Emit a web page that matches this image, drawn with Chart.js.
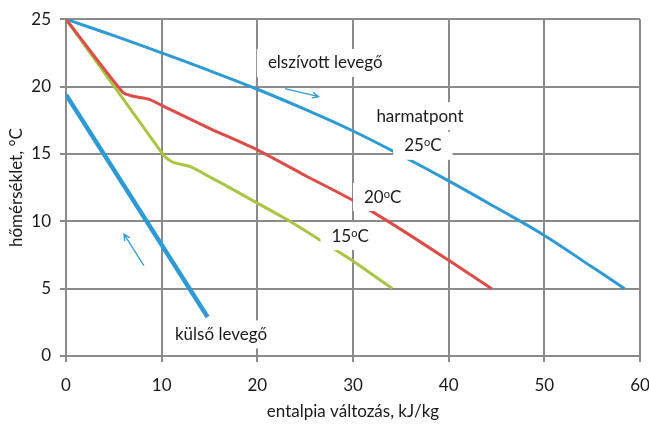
<!DOCTYPE html>
<html>
<head>
<meta charset="utf-8">
<script src="https://cdn.jsdelivr.net/npm/chart.js@4/dist/chart.umd.min.js"></script>
<style>
  html, body { margin: 0; padding: 0; background: #fff; }
</style>
</head>
<body>
<canvas id="chart" width="649" height="426"></canvas>
<script>
// enthalpy change (kJ/kg) vs temperature (°C)
const exhaustX = [0, 5, 10, 15, 20, 25, 30, 35, 40, 45, 50, 55, 58.4];
const exhaustY = [25, 23.78, 22.5, 21.18, 19.8, 18.3, 16.7, 14.9, 13.0, 11.0, 8.95, 6.6, 5];

const dew20X = [0, 5.9, 6.9, 8.7, 10, 15, 20, 25, 30, 35, 40, 44.5];
const dew20Y = [25, 19.6, 19.3, 19.05, 18.6, 16.9, 15.3, 13.4, 11.55, 9.4, 7.1, 5];

const dew15X = [0, 10, 10.5, 11.3, 13, 15, 17.1, 20, 23.4, 26.9, 30, 34.1];
const dew15Y = [25, 15.1, 14.7, 14.35, 14.05, 13.3, 12.5, 11.35, 10.0, 8.45, 7.05, 5];

const outsideX = [0, 14.8];
const outsideY = [19.4, 2.9];

const xTicks = [0, 10, 20, 30, 40, 50, 60];
const yTicks = [0, 5, 10, 15, 20, 25];

// text labels placed in data units: [x, y, text, superscript part, tail]
const labels = [
  [27.1, 21.75, 'elszívott levegő', '', ''],
  [37.0, 17.8, 'harmatpont', '', ''],
  [37.3, 15.6, '25', 'o', 'C'],
  [33.1, 11.8, '20', 'o', 'C'],
  [29.7, 8.9, '15', 'o', 'C'],
  [16.2, 1.6, 'külső levegő', '', '']
];
// arrows in data units: [fromX, fromY, toX, toY]
const arrows = [
  [22.9, 19.85, 26.4, 19.25],
  [8.15, 6.7, 6.06, 9.04]
];

const BLUE = '#2e9ad5';
const RED = '#dd4c46';
const GREEN = '#a8c545';
const FONT = 'Lato, "Open Sans", sans-serif';
const FS = 17;

function pts(xs, ys) {
  return xs.map((x, i) => ({ x: x, y: ys[i] }));
}

const labelPlugin = {
  id: 'labels',
  afterDatasetsDraw(chart) {
    const ctx = chart.ctx;
    const sx = chart.scales.x, sy = chart.scales.y;
    ctx.save();
    // arrows
    ctx.strokeStyle = BLUE;
    ctx.lineWidth = 1.3;
    arrows.forEach(a => {
      const x1 = sx.getPixelForValue(a[0]), y1 = sy.getPixelForValue(a[1]);
      const x2 = sx.getPixelForValue(a[2]), y2 = sy.getPixelForValue(a[3]);
      const ang = Math.atan2(y2 - y1, x2 - x1);
      ctx.beginPath();
      ctx.moveTo(x1, y1);
      ctx.lineTo(x2, y2);
      ctx.moveTo(x2 - 7 * Math.cos(ang - 0.45), y2 - 7 * Math.sin(ang - 0.45));
      ctx.lineTo(x2, y2);
      ctx.lineTo(x2 - 7 * Math.cos(ang + 0.45), y2 - 7 * Math.sin(ang + 0.45));
      ctx.stroke();
    });
    // text boxes
    ctx.textBaseline = 'middle';
    labels.forEach(l => {
      const cx = sx.getPixelForValue(l[0]), cy = sy.getPixelForValue(l[1]);
      ctx.font = FS + 'px ' + FONT;
      const w1 = ctx.measureText(l[2]).width;
      const w3 = ctx.measureText(l[4]).width;
      ctx.font = '11px ' + FONT;
      const w2 = ctx.measureText(l[3]).width;
      const w = w1 + w2 + w3;
      ctx.fillStyle = '#fff';
      ctx.fillRect(cx - w / 2 - 11, cy - 14, w + 22, 28);
      ctx.fillStyle = '#1a1a1a';
      ctx.textAlign = 'left';
      ctx.font = FS + 'px ' + FONT;
      ctx.fillText(l[2], cx - w / 2, cy);
      ctx.font = '11px ' + FONT;
      ctx.fillText(l[3], cx - w / 2 + w1, cy - 3);
      ctx.font = FS + 'px ' + FONT;
      ctx.fillText(l[4], cx - w / 2 + w1 + w2, cy);
    });
    ctx.restore();
  }
};

const GRID = '#8a8a8a';

new Chart(document.getElementById('chart'), {
  type: 'scatter',
  data: {
    datasets: [
      { data: pts(outsideX, outsideY), borderColor: BLUE, borderWidth: 4.5, tension: 0 },
      { data: pts(dew20X, dew20Y), borderColor: RED, borderWidth: 3, tension: 0.2 },
      { data: pts(dew15X, dew15Y), borderColor: GREEN, borderWidth: 3, tension: 0.2 },
      { data: pts(exhaustX, exhaustY), borderColor: BLUE, borderWidth: 3, tension: 0.4 }
    ]
  },
  options: {
    responsive: false,
    animation: false,
    devicePixelRatio: 1,
    layout: { padding: { top: 17, right: 0, left: 0, bottom: 0 } },
    elements: {
      point: { radius: 0 },
      line: { fill: false, borderCapStyle: 'butt', borderJoinStyle: 'round' }
    },
    datasets: { scatter: { showLine: true } },
    plugins: { legend: { display: false }, tooltip: { enabled: false } },
    scales: {
      x: {
        type: 'linear', min: 0, max: 60,
        afterBuildTicks: s => { s.ticks = xTicks.map(v => ({ value: v })); },
        afterFit: s => { s.height = 70; s.paddingLeft = 0; s.paddingRight = 9; },
        grid: { color: GRID, lineWidth: 2, tickLength: 6 },
        border: { color: GRID, width: 2 },
        ticks: { color: '#1a1a1a', font: { family: FONT, size: FS }, padding: 13 },
        title: { display: true, text: 'entalpia változás, kJ/kg', color: '#1a1a1a',
                 font: { family: FONT, size: FS }, padding: { top: 4 } }
      },
      y: {
        type: 'linear', min: 0, max: 25,
        afterBuildTicks: s => { s.ticks = yTicks.map(v => ({ value: v })); },
        afterFit: s => { s.width = 66; },
        grid: { color: GRID, lineWidth: 2, tickLength: 6 },
        border: { color: GRID, width: 2 },
        ticks: { color: '#1a1a1a', font: { family: FONT, size: FS }, padding: 9 },
        title: { display: true, text: 'hőmérséklet, °C', color: '#1a1a1a',
                 font: { family: FONT, size: FS }, padding: { top: 6, bottom: 0 } }
      }
    }
  },
  plugins: [labelPlugin]
});
</script>
</body>
</html>
